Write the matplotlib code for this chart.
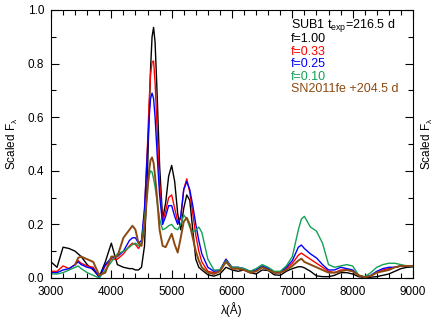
import numpy as np
import matplotlib
matplotlib.use('Agg')
import matplotlib.pyplot as plt
from matplotlib.ticker import MultipleLocator, FormatStrFormatter

plt.rcParams['font.family'] = ['Liberation Sans', 'DejaVu Sans']
plt.rcParams['mathtext.fontset'] = 'custom'
plt.rcParams['mathtext.rm'] = 'Liberation Sans'
plt.rcParams['mathtext.it'] = 'Liberation Sans'

# ------ data (wavelength in Angstrom, scaled flux)
wave = [3000, 3100, 3200, 3300, 3400,
        3450, 3500, 3600, 3700, 3800,
        3900, 4000, 4100, 4200, 4300,
        4350, 4400, 4450, 4500, 4550,
        4600, 4625, 4650, 4675, 4700,
        4725, 4750, 4775, 4800, 4850,
        4900, 4950, 5000, 5050, 5100,
        5150, 5200, 5250, 5300, 5350,
        5400, 5450, 5500, 5600, 5700,
        5800, 5900, 6000, 6100, 6200,
        6300, 6400, 6500, 6600, 6700,
        6800, 6900, 7000, 7100, 7150,
        7200, 7300, 7400, 7500, 7600,
        7700, 7800, 7900, 8000, 8100,
        8200, 8300, 8400, 8500, 8600,
        8700, 8800, 8900, 9000]

flux_f100 = [0.060, 0.040, 0.115, 0.110, 0.100,
             0.090, 0.080, 0.050, 0.030, 0.005,
             0.060, 0.130, 0.050, 0.040, 0.035,
             0.035, 0.030, 0.030, 0.040, 0.120,
             0.400, 0.600, 0.780, 0.900, 0.935,
             0.880, 0.740, 0.580, 0.420, 0.220,
             0.280, 0.380, 0.420, 0.360, 0.240,
             0.180, 0.260, 0.310, 0.290, 0.180,
             0.070, 0.040, 0.030, 0.012, 0.007,
             0.015, 0.040, 0.030, 0.025, 0.030,
             0.020, 0.015, 0.030, 0.028, 0.012,
             0.010, 0.025, 0.035, 0.042, 0.042,
             0.038, 0.025, 0.008, 0.005, 0.005,
             0.010, 0.020, 0.020, 0.015, 0.005,
             0.002, 0.003, 0.005, 0.010, 0.015,
             0.025, 0.035, 0.040, 0.040]

flux_f033 = [0.025, 0.025, 0.045, 0.035, 0.050,
             0.065, 0.055, 0.045, 0.040, 0.002,
             0.045, 0.070, 0.070, 0.090, 0.120,
             0.130, 0.125, 0.110, 0.130, 0.250,
             0.500, 0.650, 0.760, 0.805, 0.810,
             0.730, 0.600, 0.470, 0.350, 0.210,
             0.250, 0.300, 0.310, 0.260, 0.210,
             0.220, 0.330, 0.370, 0.320, 0.240,
             0.160, 0.100, 0.060, 0.025, 0.020,
             0.025, 0.070, 0.035, 0.035, 0.030,
             0.020, 0.025, 0.040, 0.035, 0.020,
             0.020, 0.035, 0.055, 0.085, 0.093,
             0.085, 0.070, 0.055, 0.040, 0.025,
             0.020, 0.030, 0.030, 0.025, 0.010,
             0.003, 0.008, 0.020, 0.030, 0.035,
             0.040, 0.045, 0.045, 0.040]

flux_f025 = [0.020, 0.020, 0.030, 0.035, 0.050,
             0.060, 0.050, 0.040, 0.035, 0.002,
             0.050, 0.075, 0.080, 0.100, 0.140,
             0.150, 0.150, 0.130, 0.140, 0.260,
             0.480, 0.590, 0.670, 0.690, 0.670,
             0.600, 0.500, 0.400, 0.310, 0.200,
             0.230, 0.270, 0.270, 0.230, 0.200,
             0.230, 0.330, 0.360, 0.330, 0.270,
             0.200, 0.140, 0.090, 0.040, 0.025,
             0.030, 0.070, 0.040, 0.040, 0.035,
             0.025, 0.030, 0.045, 0.035, 0.020,
             0.020, 0.040, 0.065, 0.115, 0.123,
             0.110, 0.090, 0.075, 0.050, 0.030,
             0.030, 0.040, 0.035, 0.030, 0.010,
             0.003, 0.010, 0.025, 0.035, 0.040,
             0.040, 0.045, 0.045, 0.040]

flux_f010 = [0.015, 0.015, 0.020, 0.030, 0.040,
             0.045, 0.035, 0.020, 0.010, 0.000,
             0.030, 0.060, 0.090, 0.100, 0.115,
             0.125, 0.130, 0.120, 0.130, 0.220,
             0.330, 0.380, 0.400, 0.395, 0.370,
             0.340, 0.300, 0.260, 0.220, 0.180,
             0.185, 0.195, 0.200, 0.185, 0.180,
             0.200, 0.235, 0.220, 0.190, 0.170,
             0.180, 0.190, 0.170, 0.070, 0.030,
             0.030, 0.065, 0.040, 0.040, 0.035,
             0.025, 0.035, 0.050, 0.040, 0.025,
             0.025, 0.045, 0.080, 0.180, 0.220,
             0.230, 0.190, 0.175, 0.130, 0.050,
             0.040, 0.045, 0.050, 0.045, 0.010,
             0.005, 0.020, 0.040, 0.050, 0.055,
             0.055, 0.050, 0.045, 0.040]

nan = np.nan
flux_11fe = [nan, nan, nan, nan, 0.050,
             0.075, 0.080, 0.070, 0.060, 0.010,
             0.020, 0.080, 0.080, 0.150, 0.180,
             0.195, 0.180, 0.130, 0.120, 0.190,
             0.330, 0.400, 0.440, 0.450, 0.430,
             0.380, 0.320, 0.250, 0.180, 0.120,
             0.115, 0.140, 0.165, 0.125, 0.095,
             0.150, 0.210, 0.225, 0.200, 0.150,
             0.100, 0.065, 0.040, 0.020, 0.015,
             0.025, 0.060, 0.035, 0.035, 0.030,
             0.020, 0.025, 0.040, 0.030, 0.020,
             0.020, 0.030, 0.045, 0.065, 0.072,
             0.060, 0.050, 0.040, 0.030, 0.020,
             0.020, 0.025, 0.030, 0.025, 0.010,
             0.003, 0.008, 0.020, 0.025, 0.030,
             0.040, 0.045, 0.045, 0.045]

labels = ['f=1.00', 'f=0.33', 'f=0.25', 'f=0.10', 'SN2011fe +204.5 d']
colors = ['black', '#ff0000', '#0000ff', '#13a055', '#8c4a12']

fig = plt.figure(figsize=(4.36, 3.25), dpi=100)
ax = fig.add_axes([51 / 436, 47 / 325, 362 / 436, 268 / 325])

series = [flux_f100, flux_f033, flux_f025, flux_f010]
for y, c in zip(series, colors[:4]):
    ax.plot(wave, y, color=c, lw=1.0)
ax.plot(wave, flux_11fe, color=colors[4], lw=1.4)

ax.set_xlim(3000, 9000)
ax.set_ylim(0, 1.0)
ax.xaxis.set_major_locator(MultipleLocator(1000))
ax.xaxis.set_minor_locator(MultipleLocator(200))
ax.yaxis.set_major_locator(MultipleLocator(0.2))
ax.yaxis.set_minor_locator(MultipleLocator(0.1))
ax.tick_params(which='both', direction='in', top=True, right=True, labelsize=8.5, width=0.8)
ax.tick_params(which='major', length=6)
ax.tick_params(which='minor', length=3.5)
ax.tick_params(axis='x', which='major', pad=6)
ax.tick_params(axis='y', which='major', pad=5)
ax.yaxis.set_major_formatter(FormatStrFormatter('%.1f'))
for sp in ax.spines.values():
    sp.set_linewidth(0.8)

ax.set_xlabel('λ(Å)', fontsize=8.5, labelpad=3)
fig.text(12 / 436, 1 - 144 / 325, r'Scaled F$_\lambda$', rotation=90, fontsize=8.5,
         ha='center', va='center')
fig.text(427 / 436, 1 - 144 / 325, r'Scaled F$_\lambda$', rotation=90, fontsize=8.5,
         ha='center', va='center')

# ------ label block
x0, y0, dy = 0.663, 0.937, 0.0463
ax.text(x0, y0 + 0.006, r'SUB1 t$_{\rm exp}$=216.5 d', transform=ax.transAxes,
        fontsize=9, color='black', va='center')
for i, (lab, c) in enumerate(zip(labels, colors)):
    ax.text(x0, y0 - (i + 1) * dy, lab, transform=ax.transAxes,
            fontsize=9, color=c, va='center')

fig.savefig('out.png', dpi=100)
